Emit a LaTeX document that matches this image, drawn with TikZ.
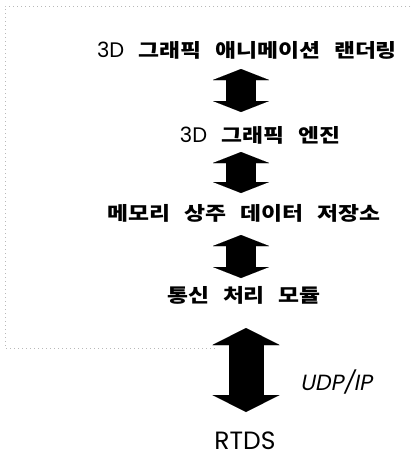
\documentclass[tikz,border=0pt]{standalone}
\usepackage{fontspec}
\usetikzlibrary{arrows.meta}
\newfontfamily\kr{Noto Sans CJK KR}[FakeStretch=1.2]
\newfontfamily\lat{Poppins}
\newfontfamily\latit{Poppins}[FakeSlant=0.2]
\newcommand{\tD}{{\lat\mdseries\fontsize{21}{22}\selectfont 3D}}
\newcommand{\wsp}{\hspace{14pt}}
\begin{document}
\begin{tikzpicture}[x=1pt,y=-1pt,
  lbl/.style={inner sep=0pt, font=\kr\bfseries\fontsize{19}{22}\selectfont},
  latlbl/.style={inner sep=0pt, font=\lat\fontsize{25}{28}\selectfont},
  itlbl/.style={inner sep=0pt, font=\latit\fontsize{22}{25}\selectfont},
  framepath/.style={draw=gray!55, line width=0.5pt, dash pattern=on 1pt off 3pt},
  smallarrow/.style={line width=30pt, black,
    {Triangle[width=56pt,length=11pt,line width=0.01pt]}-{Triangle[width=56pt,length=11pt,line width=0.01pt]}},
  bigarrow/.style={line width=35pt, black,
    {Triangle[width=67pt,length=17pt,line width=0.01pt]}-{Triangle[width=67pt,length=17pt,line width=0.01pt]}}]
\useasboundingbox (0,0) rectangle (415,459);
\fill[white] (0,0) rectangle (415,459);
% faint frame
\coordinate (fr1) at (410,6);
\coordinate (fr2) at (5,6);
\coordinate (fr3) at (5,348);
\coordinate (fr4) at (215,348);
\draw[framepath] (fr1) -- (fr2) -- (fr3) -- (fr4);
% labels
\node[lbl] (t1) at (247,50) {\tD\wsp 그래픽\wsp 애니메이션\wsp 랜더링};
\node[lbl] (t2) at (260,135) {\tD\wsp 그래픽\wsp 엔진};
\node[lbl] (t3) at (244,213) {메모리\wsp 상주\wsp 데이터\wsp 저장소};
\node[lbl] (t4) at (244,295) {통신\wsp 처리\wsp 모듈};
\node[latlbl] (rtds) at (245,441) {RTDS};
\node[itlbl] (udp) at (336,382) {UDP/IP};
% arrow end points
\coordinate (a1s) at (241,69);  \coordinate (a1e) at (241,112);
\coordinate (a2s) at (241,152); \coordinate (a2e) at (241,193);
\coordinate (a3s) at (241,235); \coordinate (a3e) at (241,278);
\coordinate (a4s) at (246,328); \coordinate (a4e) at (246,412);
\draw[smallarrow] (a1s) -- (a1e);
\draw[smallarrow] (a2s) -- (a2e);
\draw[smallarrow] (a3s) -- (a3e);
\draw[bigarrow] (a4s) -- (a4e);
\end{tikzpicture}
\end{document}
